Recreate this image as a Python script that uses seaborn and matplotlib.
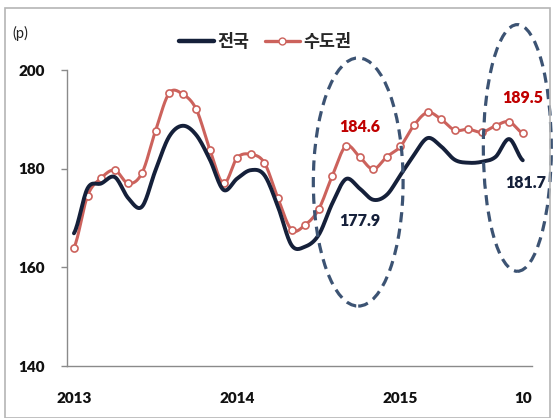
import numpy as np
import pandas as pd
import matplotlib
matplotlib.use("Agg")
import matplotlib.pyplot as plt
from matplotlib.patches import Ellipse, Rectangle
from matplotlib.lines import Line2D
import seaborn as sns

# Monthly housing index, Jan 2013 - Oct 2015 (p)
months = pd.date_range("2013-01", "2015-10", freq="MS").strftime("%Y-%m").tolist()
national = [166.9, 176.0, 177.0, 178.3, 174.0, 172.3, 179.7, 186.5, 188.7, 186.8,
            181.8, 175.7, 178.0, 179.7, 178.7, 172.3, 164.5, 164.2, 166.6, 173.0,
            177.9, 176.0, 173.7, 174.7, 178.7, 182.8, 186.2, 184.5, 181.8, 181.2,
            181.4, 182.4, 186.0, 181.7]
capital = [164.0, 174.5, 178.1, 179.7, 177.0, 179.1, 187.7, 195.3, 195.1, 192.0,
           183.8, 177.0, 182.2, 182.9, 181.2, 174.0, 167.6, 168.6, 171.8, 178.6,
           184.6, 182.4, 179.9, 182.4, 184.5, 188.8, 191.4, 190.0, 187.8, 188.0,
           187.4, 188.7, 189.5, 187.2]
tick_pos = [0, 12, 24, 33]
tick_labels = ["2013", "2014", "2015", "10"]
y_ticks = [140, 160, 180, 200]
series_names = ["전국", "수도권"]

NAVY = "#15203a"
ROSE = "#cc625c"
LABEL_RED = "#c00000"
RING = "#3c5373"


def smooth(values, steps=16):
    """Catmull-Rom curve through the monthly points."""
    y = np.asarray(values, float)
    p = np.r_[y[0], y, y[-1]]
    xs, ys = [], []
    for i in range(len(y) - 1):
        p0, p1, p2, p3 = p[i], p[i + 1], p[i + 2], p[i + 3]
        t = np.linspace(0, 1, steps, endpoint=False)
        seg = 0.5 * ((2 * p1) + (-p0 + p2) * t + (2 * p0 - 5 * p1 + 4 * p2 - p3) * t ** 2
                     + (-p0 + 3 * p1 - 3 * p2 + p3) * t ** 3)
        xs.append(i + t)
        ys.append(seg)
    xs.append([len(y) - 1])
    ys.append([y[-1]])
    return np.concatenate(xs), np.concatenate(ys)


sns.set_theme(style="white")
plt.rcParams["font.family"] = ["Lato", "Noto Sans CJK KR", "DejaVu Sans"]

fig = plt.figure(figsize=(5.55, 4.18), dpi=100)
ax = fig.add_axes([0.120, 0.1244, 0.8386, 0.7081])

idx = np.arange(len(months))
nx, ny = smooth(national)
cx, cy = smooth(capital)
sns.lineplot(x=cx, y=cy, ax=ax, color=ROSE, lw=2.2, zorder=3)
sns.scatterplot(x=idx, y=capital, ax=ax, s=26, color="white", edgecolor=ROSE,
                linewidth=1.2, zorder=4)
sns.lineplot(x=nx, y=ny, ax=ax, color=NAVY, lw=2.8, zorder=5)

ax.set_xlim(-0.54, 33.68)
ax.set_ylim(140, 200)
ax.set_yticks(y_ticks)
ax.set_xticks(tick_pos)
ax.set_xticklabels(tick_labels)
for lab in ax.get_xticklabels() + ax.get_yticklabels():
    lab.set_fontweight("heavy")
    lab.set_fontsize(11)
    lab.set_color("#111111")
ax.tick_params(axis="y", length=4, width=1, color="#8a8a8a", direction="out",
               left=True, pad=12)
ax.tick_params(axis="x", length=0, pad=19)
for side in ["top", "right"]:
    ax.spines[side].set_visible(False)
for side in ["left", "bottom"]:
    ax.spines[side].set_color("#8a8a8a")
    ax.spines[side].set_linewidth(1.0)
ax.set_xlabel("")
ax.set_ylabel("")
ax.legend_ = None

# value callouts
ax.text(21.0, capital[20] + 2.3, f"{capital[20]:.1f}", color=LABEL_RED, ha="center",
        va="bottom", fontsize=11.5, fontweight="heavy")
ax.text(21.0, national[20] - 8.6, f"{national[20]:.1f}", color=NAVY, ha="center",
        va="center", fontsize=11.5, fontweight="heavy")
ax.text(33.0, capital[32] + 4.8, f"{capital[32]:.1f}", color=LABEL_RED, ha="center",
        va="center", fontsize=11.5, fontweight="heavy")
ax.text(33.2, national[33] - 4.6, f"{national[33]:.1f}", color=NAVY, ha="center",
        va="center", fontsize=11.5, fontweight="heavy")

# dashed highlight rings
for cxy, w, h in [((20.9, 177.3), 6.6, 50.3), ((32.6, 184.2), 5.0, 50.0)]:
    e = Ellipse(cxy, w, h, fill=False, edgecolor=RING, lw=2.3,
                linestyle=(0, (3.2, 2.0)), clip_on=False, zorder=6)
    ax.add_patch(e)

# unit and legend
fig.text(20 / 555, 1 - 33 / 418, "(p)", ha="center", va="center", fontsize=10.5,
         color="#222222")
handles = [Line2D([], [], color=NAVY, lw=3.2),
           Line2D([], [], color=ROSE, lw=2.4, marker="o", markersize=5,
                  markerfacecolor="white", markeredgecolor=ROSE)]
fig.legend(handles, series_names, loc="center", bbox_to_anchor=(0.478, 0.9),
           ncol=2, frameon=False, handlelength=2.0, handletextpad=0.2,
           columnspacing=0.9,
           prop={"family": ["Noto Sans CJK KR"], "weight": "bold", "size": 12.5})

# outer frame
fig.patches.append(Rectangle((5 / 555, 0), 545 / 555, 1 - 8 / 418,
                             transform=fig.transFigure, fill=False,
                             edgecolor="#b5b5b5", lw=1.2))

fig.savefig("out.png", dpi=100)
